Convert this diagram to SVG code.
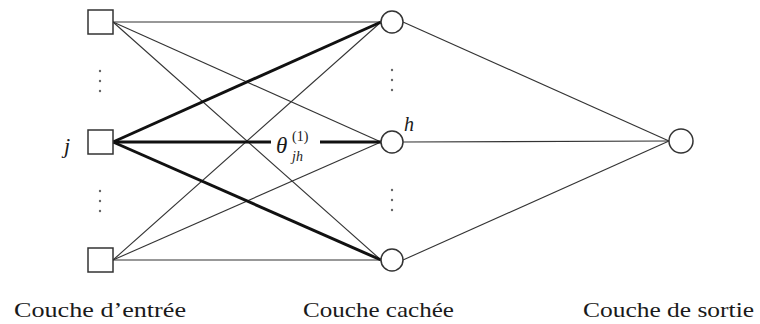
<svg xmlns="http://www.w3.org/2000/svg" width="760" height="324" viewBox="0 0 760 324">
<style>
.n{fill:#fff;stroke:#333;stroke-width:1.5}
.t{stroke:#333;stroke-width:1.1;fill:none}
.k{stroke:#111;stroke-width:3;fill:none}
.d{fill:#666}
.f{font-family:'Liberation Serif','Times New Roman',serif}
.lbl{font-size:21px;fill:#1a1a1a}
.m{font-style:italic;fill:#1a1a1a}
</style>
<rect width="760" height="324" fill="#fff"/>
<g id="connectors">
<line class="t" x1="113" y1="22" x2="381" y2="22"/>
<line class="t" x1="113" y1="22" x2="381" y2="142"/>
<line class="t" x1="113" y1="22" x2="381" y2="260"/>
<line class="t" x1="113" y1="260" x2="381" y2="22"/>
<line class="t" x1="113" y1="260" x2="381" y2="142"/>
<line class="t" x1="113" y1="260" x2="381" y2="260"/>
<line class="k" x1="113" y1="142" x2="381" y2="22"/>
<line class="k" x1="113" y1="142" x2="381" y2="142"/>
<line class="k" x1="113" y1="142" x2="381" y2="260"/>
<line class="t" x1="403" y1="22" x2="669" y2="141"/>
<line class="t" x1="403" y1="142" x2="669" y2="141"/>
<line class="t" x1="403" y1="260" x2="669" y2="141"/>
</g>
<g id="theta" class="f">
<rect x="271" y="128" width="49" height="30" fill="#fff"/>
<text class="m f" x="276" y="153" font-size="23">θ</text>
<text class="f" x="292" y="141" font-size="14" fill="#1a1a1a">(1)</text>
<text class="m f" x="292" y="161" font-size="14">jh</text>
</g>
<g id="in1"><rect class="n" x="88" y="10" width="25" height="24"/></g>
<g id="in2"><rect class="n" x="88" y="130" width="25" height="24"/></g>
<g id="in3"><rect class="n" x="88" y="248" width="25" height="24"/></g>
<g id="h1"><circle class="n" cx="392" cy="22" r="11"/></g>
<g id="h2"><circle class="n" cx="392" cy="142" r="11"/></g>
<g id="h3"><circle class="n" cx="392" cy="260" r="11"/></g>
<g id="out"><circle class="n" cx="681" cy="141" r="12"/></g>
<g id="dots">
<circle class="d" cx="100" cy="71" r="1.2"/><circle class="d" cx="100" cy="81" r="1.2"/><circle class="d" cx="100" cy="91" r="1.2"/>
<circle class="d" cx="100" cy="191" r="1.2"/><circle class="d" cx="100" cy="201" r="1.2"/><circle class="d" cx="100" cy="211" r="1.2"/>
<circle class="d" cx="392" cy="70" r="1.2"/><circle class="d" cx="392" cy="80" r="1.2"/><circle class="d" cx="392" cy="90" r="1.2"/>
<circle class="d" cx="392" cy="190" r="1.2"/><circle class="d" cx="392" cy="200" r="1.2"/><circle class="d" cx="392" cy="210" r="1.2"/>
</g>
<g id="labels">
<text class="m f" x="64" y="153" font-size="22">j</text>
<text class="m f" x="404" y="131" font-size="20">h</text>
<text class="lbl f" x="14" y="317" textLength="172" lengthAdjust="spacingAndGlyphs">Couche d’entrée</text>
<text class="lbl f" x="303" y="317" textLength="151" lengthAdjust="spacingAndGlyphs">Couche cachée</text>
<text class="lbl f" x="583" y="317" textLength="171" lengthAdjust="spacingAndGlyphs">Couche de sortie</text>
</g>
</svg>
